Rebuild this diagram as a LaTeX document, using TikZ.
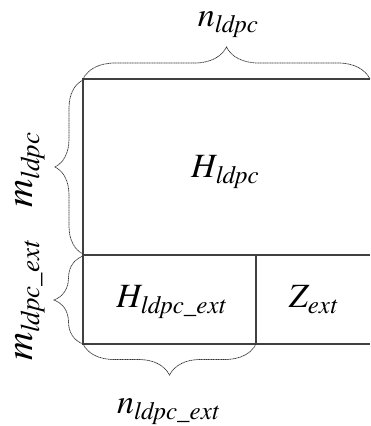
\documentclass[tikz,border=0pt]{standalone}
\usepackage{fontspec}
\newfontfamily\tnrit{texgyretermes-italic.otf}
\usetikzlibrary{decorations.pathreplacing}
\newcommand\nlab[2]{\tnrit{\fontsize{34}{40}\selectfont #1}\raisebox{-6pt}{\fontsize{25}{30}\selectfont #2}}
\newcommand\mlab[2]{\tnrit{\fontsize{39}{46}\selectfont #1}\raisebox{-7pt}{\fontsize{27}{32}\selectfont #2}}
\tikzset{
  gridline/.style={draw=black!75, line width=1.1pt},
  bracestyle/.style={draw=black!80, line width=0.7pt, dash pattern=on 1.2pt off 0.5pt,
    decorate, decoration={brace, amplitude=#1}},
  lbl/.style={inner sep=0pt, anchor=base}
}
\begin{document}
\begin{tikzpicture}[x=1pt,y=-1pt]
\useasboundingbox (0,0) rectangle (370,426);
% corner coordinates
\coordinate (tl) at (83,79);
\coordinate (tr) at (370,79);
\coordinate (cl) at (83,255);
\coordinate (cr) at (370,255);
\coordinate (cm) at (256,255);
\coordinate (bl) at (83,344);
\coordinate (bm) at (256,344);
\coordinate (br) at (370,344);
% matrix outline
\draw[gridline] (tr) -- (tl) -- (bl) -- (br);
\draw[gridline] (cl) -- (cr);
\draw[gridline] (cm) -- (bm);
% brace end points
\coordinate (ulb) at (83,254);
\coordinate (ult) at (83,80);
\coordinate (llb) at (83,344);
\coordinate (llt) at (83,256);
% braces
\draw[bracestyle=32] (tl) -- (tr);
\draw[bracestyle=28] (ulb) -- (ult);
\draw[bracestyle=29] (llb) -- (llt);
\draw[bracestyle=31] (bm) -- (bl);
% labels
\node[lbl] (nl) at (228,26) {\nlab{n}{ldpc}};
\node[lbl] (hl) at (225,177) {\nlab{H}{ldpc}};
\node[lbl] (hle) at (171,307) {\nlab{H}{ldpc\_ext}};
\node[lbl] (ze) at (313,307) {\nlab{Z}{ext}};
\node[lbl] (nle) at (168,413) {\nlab{n}{ldpc\_ext}};
\node[lbl, rotate=90] (mlb) at (32,170) {\mlab{m}{ldpc}};
\node[lbl, rotate=90] (mle) at (32,301) {\mlab{m}{ldpc\_ext}};
\end{tikzpicture}
\end{document}
